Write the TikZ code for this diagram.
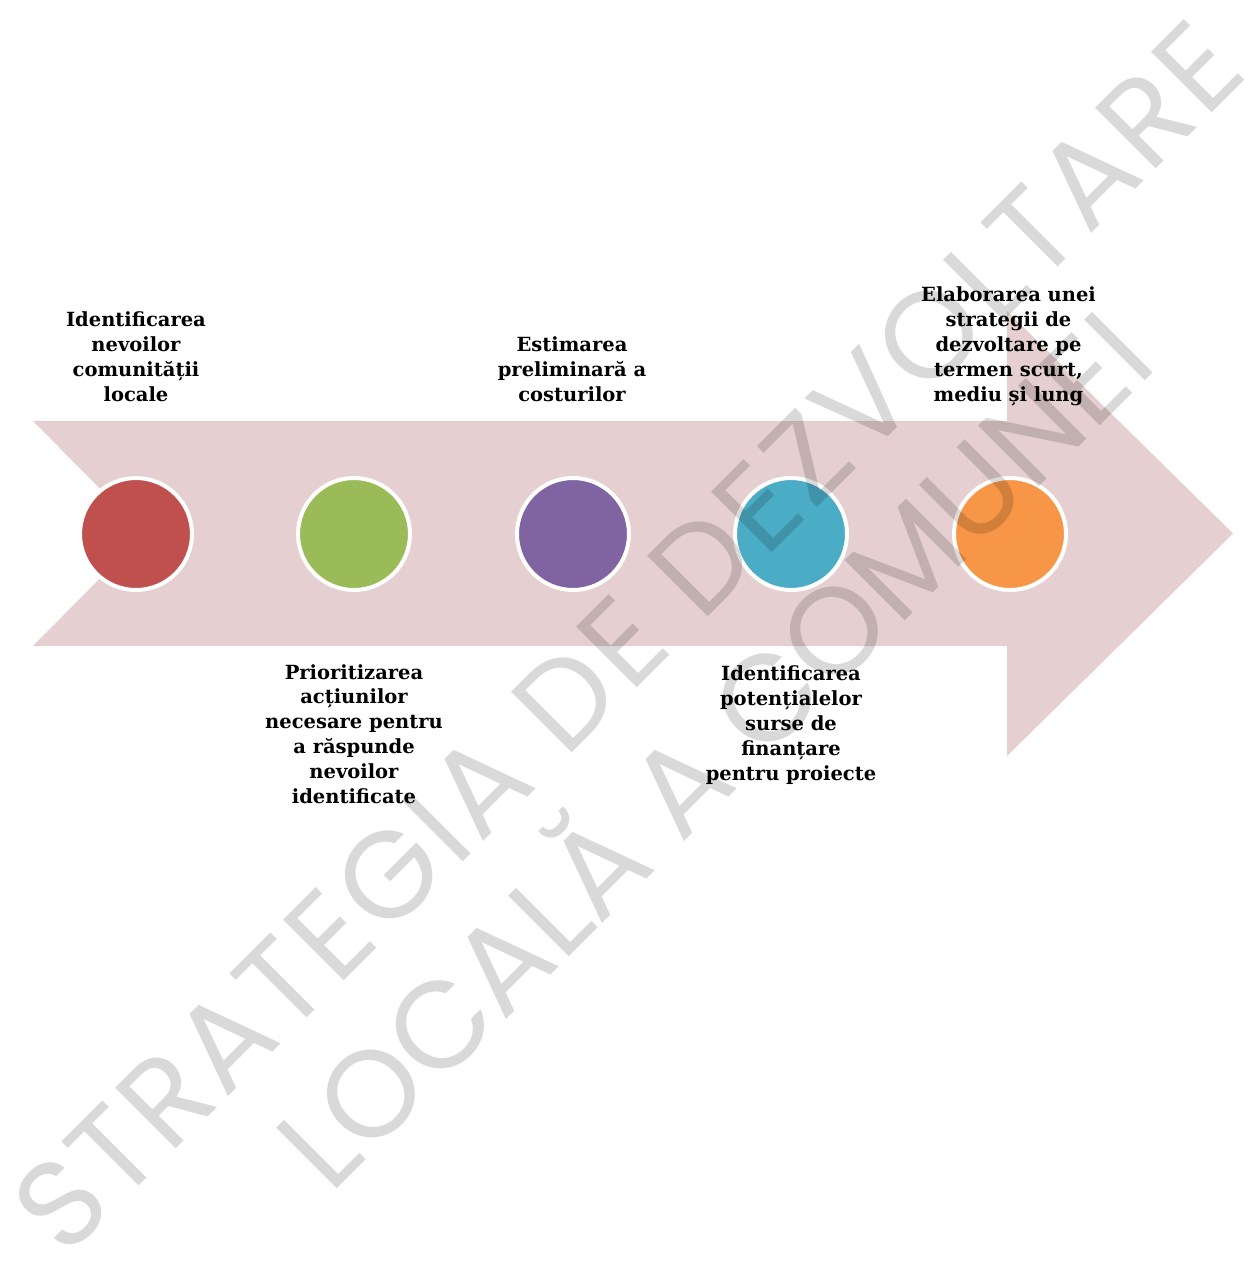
\documentclass[tikz,border=0pt]{standalone}
\usepackage{fontspec}
\setmainfont{DejaVu Serif}
\newfontfamily\wmfont{Poppins}
\newfontfamily\wmfontwide[LetterSpace=3.6]{Poppins}
\definecolor{arrowpink}{HTML}{E5CFD0}
\definecolor{cred}{HTML}{C0504D}
\definecolor{cgreen}{HTML}{9BBB59}
\definecolor{cpurple}{HTML}{8064A2}
\definecolor{cblue}{HTML}{4BACC6}
\definecolor{corange}{HTML}{F79646}
\begin{document}
\begin{tikzpicture}[x=1bp,y=-1bp,
  lbl/.style={align=center, font=\fontsize{19.5bp}{24.8bp}\selectfont\bfseries, inner xsep=2bp, inner ysep=3bp, anchor=base},
  dot/.style={circle, draw=white, line width=4bp, minimum size=112bp, inner sep=0pt},
  wm/.style={text=black, text opacity=0.15, rotate=45, anchor=base, inner sep=0pt}]
\useasboundingbox (0,0) rectangle (1258,1265);
\fill[white] (0,0) rectangle (1258,1265);
% arrow
\fill[arrowpink] (33,421) -- (1007,421) -- (1007,311) -- (1233,533.5) -- (1007,756) -- (1007,646) -- (33,646) -- (144.5,533.5) -- cycle;
% circles
\node[dot, fill=cred]    (c1) at (136,534) {};
\node[dot, fill=cgreen]  (c2) at (354,534) {};
\node[dot, fill=cpurple] (c3) at (573,534) {};
\node[dot, fill=cblue]   (c4) at (791,534) {};
\node[dot, fill=corange] (c5) at (1010,534) {};
% labels (anchor base = baseline of the last line)
\node[lbl] (t1) at (136,401) {Identificarea\\nevoilor\\comunității\\locale};
\node[lbl] (t3) at (572,401) {Estimarea\\preliminară a\\costurilor};
\node[lbl] (t5) at (1008.5,401) {Elaborarea unei\\strategii de\\dezvoltare pe\\termen scurt,\\mediu și lung};
\node[lbl] (t2) at (354,803) {Prioritizarea\\acțiunilor\\necesare pentru\\a răspunde\\nevoilor\\identificate};
\node[lbl] (t4) at (791,780) {Identificarea\\potențialelor\\surse de\\finanțare\\pentru proiecte};
% watermark
\node[wm, font=\wmfontwide\fontsize{123bp}{123bp}\selectfont] (w1) at (658,667) {STRATEGIA DE DEZVOLTARE};
\node[wm, font=\wmfont\fontsize{123bp}{123bp}\selectfont] (w2) at (745,781) {LOCALĂ A COMUNEI};
\end{tikzpicture}
\end{document}
